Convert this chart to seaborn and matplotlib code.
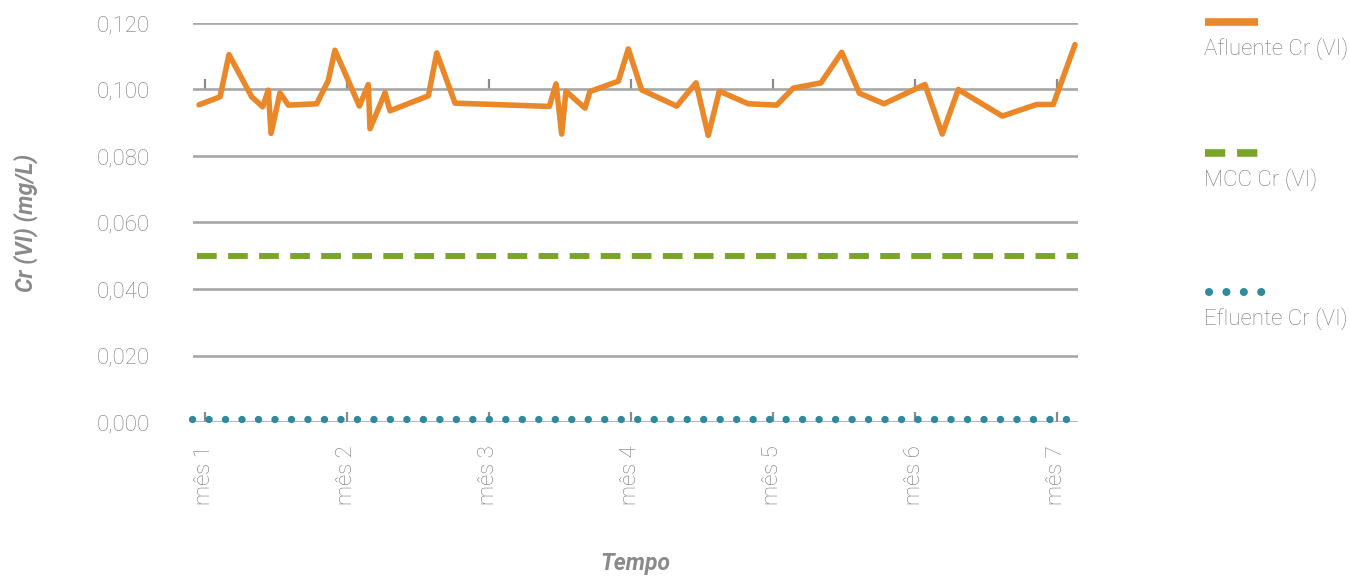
import numpy as np
import pandas as pd
import matplotlib
matplotlib.use("Agg")
import matplotlib.pyplot as plt
import seaborn as sns

# posição no tempo (meses) e valores
tempo = [0.958, 1.106, 1.169, 1.329, 1.406, 1.446, 1.465, 1.528, 1.587, 1.787,
         1.868, 1.915, 2.009, 2.087, 2.150, 2.162, 2.268, 2.303, 2.573, 2.632,
         2.761, 3.425, 3.472, 3.512, 3.542, 3.676, 3.711, 3.911, 3.981, 4.075,
         4.322, 4.458, 4.544, 4.622, 4.826, 5.026, 5.143, 5.338, 5.484, 5.608,
         5.782, 6.070, 6.192, 6.305, 6.615, 6.857, 6.974, 7.127]
afluente = [0.0954, 0.0978, 0.1105, 0.0978, 0.0948, 0.0998, 0.0868, 0.0990, 0.0953, 0.0957,
            0.1027, 0.1118, 0.1027, 0.0950, 0.1015, 0.0882, 0.0990, 0.0936, 0.0981, 0.1110,
            0.0959, 0.0949, 0.1017, 0.0866, 0.0995, 0.0944, 0.0994, 0.1025, 0.1122, 0.0999,
            0.0950, 0.1020, 0.0862, 0.0995, 0.0957, 0.0953, 0.1004, 0.1020, 0.1112, 0.0989,
            0.0957, 0.1015, 0.0866, 0.1000, 0.0920, 0.0955, 0.0955, 0.1135]
mcc_tempo = [0.944, 7.148]
mcc = [0.050, 0.050]
efluente_tempo = [0.905, 7.148]
efluente = [0.001, 0.001]

meses = [1, 2, 3, 4, 5, 6, 7]
mes_labels = ["mês 1", "mês 2", "mês 3", "mês 4", "mês 5", "mês 6", "mês 7"]
yticks = [0.0, 0.02, 0.04, 0.06, 0.08, 0.10, 0.12]

c_af = "#EA8728"
c_mcc = "#7AA52A"
c_ef = "#2E8A9C"
c_grid = "#A7A7A7"
c_txt = "#7A7A7A"

sns.set_theme(style="white")
plt.rcParams["font.family"] = ["Roboto", "DejaVu Sans"]

df_af = pd.DataFrame({"tempo": tempo, "valor": afluente})
df_mcc = pd.DataFrame({"tempo": mcc_tempo, "valor": mcc})
df_ef = pd.DataFrame({"tempo": efluente_tempo, "valor": efluente})

fig = plt.figure(figsize=(13.5, 5.76), dpi=100)
ax = fig.add_axes([193 / 1350, 1 - 422 / 576, (1078 - 193) / 1350, (422 - 23) / 576])

# linhas
sns.lineplot(data=df_ef, x="tempo", y="valor", ax=ax, color=c_ef, lw=5.3,
             linestyle=(0, (0.01, 2.23)), dash_capstyle="round", clip_on=False, zorder=4)
sns.lineplot(data=df_mcc, x="tempo", y="valor", ax=ax, color=c_mcc, lw=4.3,
             linestyle=(0, (3.3, 1.9)), clip_on=False, zorder=4)
sns.lineplot(data=df_af, x="tempo", y="valor", ax=ax, color=c_af, lw=4,
             clip_on=False, zorder=5)

ax.set_xlim(0.9155, 7.148)
ax.set_ylim(0, 0.12)
ax.set_yticks(yticks)
ax.set_yticklabels([f"{v:.3f}".replace(".", ",") for v in yticks])
ax.set_xticks(meses)
ax.set_xticklabels(mes_labels, rotation=90, va="top")

ax.grid(axis="y", color=c_grid, lw=1.9, zorder=1)
ax.set_axisbelow(True)
for s in ax.spines.values():
    s.set_visible(False)

ax.tick_params(axis="y", length=0, pad=31, labelsize=16, labelcolor=c_txt)
ax.tick_params(axis="x", direction="in", length=7, width=1.6, color="#8A8A8A",
               pad=17, labelsize=16, labelcolor=c_txt, bottom=True)
for t in ax.get_xticklabels() + ax.get_yticklabels():
    t.set_fontweight("light")

# marcas de tick sobre a linha 0,100
sec = ax.secondary_xaxis(0.10 / 0.12)
sec.set_xticks(meses)
sec.set_xticklabels([])
sec.tick_params(direction="out", length=7, width=1.6, color="#8A8A8A")
sec.spines["top"].set_visible(False)
sec.spines["bottom"].set_visible(False)

ax.set_xlabel("Tempo", fontsize=16.5, fontweight="bold", fontstyle="italic",
              color="#8A8A8A", labelpad=0)
ax.xaxis.set_label_coords(0.5, -0.325)
ax.set_ylabel("Cr (VI) (mg/L)", fontsize=16.5, fontweight="bold", fontstyle="italic",
              color="#8A8A8A")
ax.yaxis.set_label_coords(-0.175, 0.5)

# legenda com a amostra acima do texto
lg = fig.add_axes([0, 0, 1, 1], facecolor="none")
lg.set_xlim(0, 1350)
lg.set_ylim(576, 0)
lg.axis("off")
items = [("Afluente Cr (VI)", dict(color=c_af, lw=5.5, solid_capstyle="butt"), 1205, 1258, 22),
         ("MCC Cr (VI)", dict(color=c_mcc, lw=5.5, linestyle=(0, (2.65, 1.55))), 1205, 1258, 153),
         ("Efluente Cr (VI)", dict(color=c_ef, lw=5.8, linestyle=(0, (0.01, 2.15)),
                                   dash_capstyle="round"), 1209, 1263, 292)]
for label, style, x0, x1, yy in items:
    lg.plot([x0, x1], [yy, yy], **style)
    lg.text(1204, yy + 27, label, fontsize=16, color=c_txt, fontweight="light",
            va="center", ha="left")

fig.savefig("out.png", dpi=100)
